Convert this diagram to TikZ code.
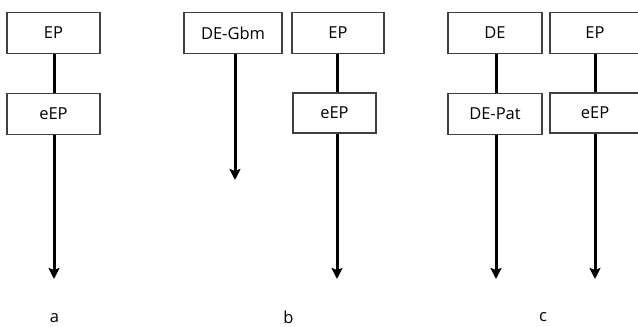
\documentclass[tikz,border=0pt]{standalone}
\usepackage{fontspec}
\setmainfont{Open Sans}
\usetikzlibrary{arrows.meta,calc}
\tikzset{
  boxnode/.style={draw=black!75, line width=1.3pt, fill=white, minimum height=41pt, inner sep=0pt, font=\fontsize{16.5}{19}\selectfont},
  conn/.style={line width=3pt, black},
  arr/.style={conn, -{Stealth[length=11pt,width=11pt,inset=2pt]}},
  lab/.style={anchor=base, font=\fontsize{16.5}{19}\selectfont}
}
\begin{document}
\begin{tikzpicture}[x=1pt,y=-1pt]
\useasboundingbox (0,0) rectangle (638,327);
% panel a
\node[boxnode, minimum width=93pt] (aEP) at (53.5,33) {EP};
\node[boxnode, minimum width=93pt] (aeEP) at (53.5,114) {eEP};
\coordinate (aend) at (54,279);
\draw[conn] (aEP.south -| aend) -- (aeEP.north -| aend);
\draw[arr] (aeEP.south -| aend) -- (aend);
\node[lab] (la) at (54.5,322) {a};
% panel b
\node[boxnode, minimum width=98pt] (bDG) at (233,33) {DE-Gbm};
\node[boxnode, minimum width=92pt] (bEP) at (338,33) {EP};
\node[boxnode, minimum width=83pt, minimum height=40pt] (beEP) at (334.5,113) {eEP};
\coordinate (bgend) at (235,180);
\coordinate (bend) at (337,279);
\draw[arr] (bDG.south -| bgend) -- (bgend);
\draw[conn] (bEP.south -| bend) -- (beEP.north -| bend);
\draw[arr] (beEP.south -| bend) -- (bend);
\node[lab] (lb) at (288.5,323.5) {b};
% panel c
\node[boxnode, minimum width=94pt] (cDE) at (495,33) {DE};
\node[boxnode, minimum width=94pt] (cDP) at (495,114) {DE-Pat};
\node[boxnode, minimum width=90pt] (cEP) at (595,33) {EP};
\node[boxnode, minimum width=90pt, minimum height=40pt] (ceEP) at (595,113) {eEP};
\coordinate (cdend) at (496,279);
\coordinate (cend) at (595,279);
\draw[conn] (cDE.south -| cdend) -- (cDP.north -| cdend);
\draw[arr] (cDP.south -| cdend) -- (cdend);
\draw[conn] (cEP.south -| cend) -- (ceEP.north -| cend);
\draw[arr] (ceEP.south -| cend) -- (cend);
\node[lab] (lc) at (543,321) {c};
\end{tikzpicture}
\end{document}
